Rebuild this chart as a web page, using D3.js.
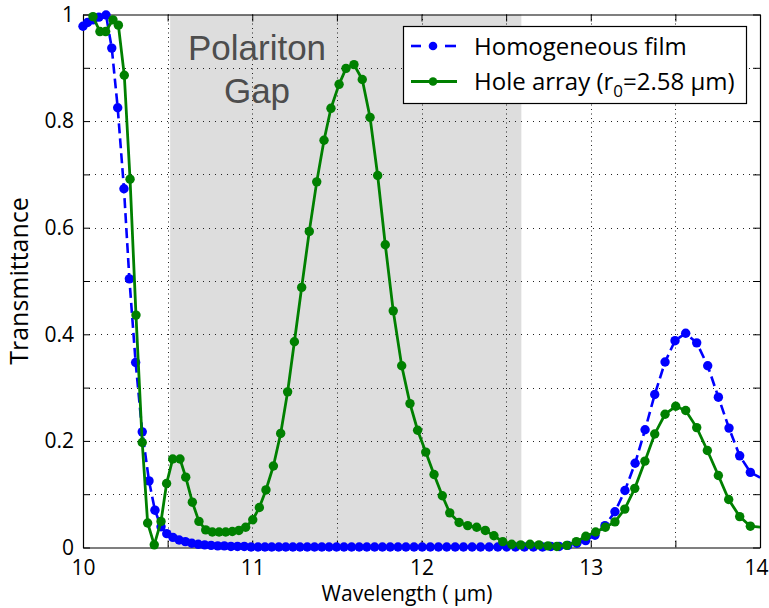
<!DOCTYPE html>
<html>
<head>
<meta charset="utf-8">
<script src="https://cdn.jsdelivr.net/npm/d3@7"></script>
<style>
  html, body { margin: 0; padding: 0; background: #fff; }
  svg { display: block; }
</style>
</head>
<body>
<svg id="chart" width="769" height="608"></svg>
<script>
// ---------- data ----------
const xTicks = [10, 10.5, 11, 11.5, 12, 12.5, 13, 13.5, 14];
const xTickLabels = ["10", "", "11", "", "12", "", "13", "", "14"];
const yTicks = [0, 0.1, 0.2, 0.3, 0.4, 0.5, 0.6, 0.7, 0.8, 0.9, 1];
const yTickLabels = ["0", "", "0.2", "", "0.4", "", "0.6", "", "0.8", "", "1"];
const gapRange = [10.515, 12.59];
const seriesNames = ["Homogeneous film", "Hole array (r", "0", "=2.58 \u03bcm)"];

const filmWavelength = [
  10.000, 10.027, 10.060, 10.094, 10.136, 10.170, 10.205, 10.242, 10.274, 10.311,
  10.350, 10.390, 10.425, 10.461, 10.495, 10.531, 10.568, 10.605, 10.643, 10.681,
  10.719, 10.757, 10.796, 10.835, 10.874, 10.913, 10.953, 10.993, 11.034, 11.075,
  11.115, 11.157, 11.198, 11.240, 11.282, 11.325, 11.368, 11.411, 11.454, 11.498,
  11.542, 11.587, 11.632, 11.677, 11.723, 11.769, 11.815, 11.861, 11.908, 11.956,
  12.004, 12.052, 12.100, 12.149, 12.199, 12.248, 12.299, 12.349, 12.400, 12.451,
  12.503, 12.555, 12.608, 12.661, 12.715, 12.764, 12.813, 12.865, 12.918, 12.970,
  13.025, 13.084, 13.143, 13.202, 13.262, 13.321, 13.378, 13.439, 13.498, 13.561,
  13.626, 13.691, 13.754, 13.817, 13.880, 13.943, 14.009
];
const filmTransmittance = [
  0.978, 0.985, 0.990, 0.995, 0.999, 0.937, 0.825, 0.673, 0.504, 0.347,
  0.217, 0.125, 0.070, 0.039, 0.026, 0.019, 0.014, 0.011, 0.008, 0.006,
  0.005, 0.004, 0.003, 0.003, 0.002, 0.002, 0.002, 0.001, 0.001, 0.001,
  0.001, 0.001, 0.001, 0.001, 0.001, 0.001, 0.001, 0.001, 0.001, 0.001,
  0.001, 0.001, 0.001, 0.001, 0.001, 0.001, 0.001, 0.001, 0.001, 0.001,
  0.001, 0.001, 0.001, 0.001, 0.001, 0.001, 0.001, 0.001, 0.001, 0.001,
  0.001, 0.001, 0.001, 0.001, 0.001, 0.002, 0.002, 0.004, 0.008, 0.013,
  0.023, 0.041, 0.067, 0.107, 0.158, 0.221, 0.287, 0.348, 0.388, 0.402,
  0.384, 0.341, 0.282, 0.224, 0.172, 0.141, 0.130
];

const holeWavelength = [
  10.059, 10.100, 10.134, 10.177, 10.209, 10.244, 10.278, 10.313, 10.350, 10.382,
  10.421, 10.461, 10.494, 10.530, 10.573, 10.607, 10.646, 10.685, 10.725, 10.764,
  10.804, 10.843, 10.882, 10.921, 10.961, 11.003, 11.042, 11.081, 11.125, 11.168,
  11.209, 11.249, 11.292, 11.337, 11.381, 11.424, 11.465, 11.513, 11.554, 11.601,
  11.650, 11.696, 11.741, 11.786, 11.833, 11.883, 11.932, 11.977, 12.025, 12.074,
  12.123, 12.167, 12.222, 12.273, 12.326, 12.377, 12.428, 12.480, 12.533, 12.586,
  12.641, 12.694, 12.747, 12.800, 12.858, 12.915, 12.971, 13.029, 13.086, 13.143,
  13.201, 13.260, 13.320, 13.378, 13.439, 13.502, 13.561, 13.626, 13.689, 13.754,
  13.815, 13.880, 13.943, 14.009
];
const holeTransmittance = [
  0.996, 0.968, 0.968, 0.990, 0.980, 0.886, 0.691, 0.436, 0.197, 0.046,
  0.005, 0.049, 0.120, 0.166, 0.166, 0.132, 0.085, 0.049, 0.033, 0.029,
  0.029, 0.029, 0.030, 0.032, 0.038, 0.052, 0.075, 0.108, 0.153, 0.214,
  0.292, 0.386, 0.488, 0.593, 0.686, 0.764, 0.824, 0.869, 0.899, 0.906,
  0.878, 0.807, 0.698, 0.568, 0.444, 0.341, 0.270, 0.220, 0.179, 0.137,
  0.097, 0.065, 0.047, 0.041, 0.038, 0.032, 0.022, 0.011, 0.006, 0.005,
  0.006, 0.005, 0.003, 0.002, 0.004, 0.011, 0.021, 0.029, 0.038, 0.048,
  0.072, 0.111, 0.162, 0.213, 0.250, 0.265, 0.257, 0.225, 0.182, 0.135,
  0.090, 0.058, 0.040, 0.038
];

// ---------- layout ----------
const svg = d3.select("#chart");
const L = 83, R = 760, T = 14.5, B = 547.5;
const x = d3.scaleLinear().domain([10, 14]).range([L, R]);
const y = d3.scaleLinear().domain([0, 1]).range([B, T]);
const blue = "#0000ff", green = "#008000";
const uiFont = "'Open Sans', 'DejaVu Sans', sans-serif";
const annFont = "'Liberation Sans', Arial, Helvetica, sans-serif";

svg.append("defs").append("clipPath").attr("id", "plotClip")
  .append("rect").attr("x", L).attr("y", T).attr("width", R - L).attr("height", B - T);

// gap band
svg.append("rect")
  .attr("x", x(gapRange[0])).attr("y", T)
  .attr("width", x(gapRange[1]) - x(gapRange[0])).attr("height", B - T)
  .attr("fill", "#dddddd");

// grid
const grid = svg.append("g").attr("stroke", "#222").attr("stroke-width", 1);
grid.selectAll("line.vg").data(xTicks.filter(d => d > 10 && d < 14)).join("line")
  .attr("x1", d => Math.round(x(d)) + 0.5).attr("x2", d => Math.round(x(d)) + 0.5)
  .attr("y1", T).attr("y2", B)
  .attr("stroke-dasharray", "1,3.5");
grid.selectAll("line.hg").data(yTicks.filter(d => d > 0 && d < 1)).join("line")
  .attr("x1", L).attr("x2", R)
  .attr("y1", d => Math.round(y(d)) + 0.5).attr("y2", d => Math.round(y(d)) + 0.5)
  .attr("stroke-dasharray", "1,5");

// "Polariton Gap" annotation
const ann = svg.append("text").attr("text-anchor", "middle")
  .style("font-family", annFont)
  .style("font-size", "35px").attr("fill", "#4d4d4d");
ann.append("tspan").attr("x", 257).attr("y", 60).text("Polariton");
ann.append("tspan").attr("x", 257).attr("y", 103).text("Gap");

// axes
function styleAxis(g) {
  g.selectAll("path.domain").attr("stroke", "#000").attr("stroke-width", 1.2);
  g.selectAll(".tick line").attr("stroke", "#000").attr("stroke-width", 1);
  g.selectAll("text").attr("fill", "#000")
    .style("font-size", "21px").style("font-family", uiFont);
}
svg.append("g").attr("transform", `translate(0,${B})`)
  .call(d3.axisBottom(x).tickValues(xTicks).tickSizeInner(-7).tickSizeOuter(0).tickPadding(13)
    .tickFormat((d, i) => xTickLabels[i]))
  .call(styleAxis)
  .call(g => g.selectAll(".tick text").filter(d => d === 14).attr("dx", -4));
svg.append("g").attr("transform", `translate(0,${T})`)
  .call(d3.axisTop(x).tickValues(xTicks).tickSizeInner(-7).tickSizeOuter(0).tickFormat(""))
  .call(styleAxis);
svg.append("g").attr("transform", `translate(${L},0)`)
  .call(d3.axisLeft(y).tickValues(yTicks).tickSizeInner(-7).tickSizeOuter(0).tickPadding(9)
    .tickFormat((d, i) => yTickLabels[i]))
  .call(styleAxis);
svg.append("g").attr("transform", `translate(${R},0)`)
  .call(d3.axisRight(y).tickValues(yTicks).tickSizeInner(-7).tickSizeOuter(0).tickFormat(""))
  .call(styleAxis);

// axis titles
svg.append("text").attr("x", 407).attr("y", 601).attr("text-anchor", "middle")
  .style("font-family", uiFont).style("font-size", "21px").text("Wavelength ( \u03bcm)");
svg.append("text").attr("transform", `translate(28,${(T + B) / 2}) rotate(-90)`)
  .attr("text-anchor", "middle")
  .style("font-family", uiFont).style("font-size", "25px").text("Transmittance");

// data
const film = filmWavelength.map((w, i) => ({ w, t: filmTransmittance[i] }));
const hole = holeWavelength.map((w, i) => ({ w, t: holeTransmittance[i] }));
const line = d3.line().x(d => x(d.w)).y(d => y(d.t));
const inDomain = d => d.w >= 10 && d.w <= 14;
const mr = 4.7;

const plot = svg.append("g");
plot.append("path").datum(film).attr("d", line).attr("clip-path", "url(#plotClip)")
  .attr("fill", "none").attr("stroke", blue).attr("stroke-width", 2.6)
  .attr("stroke-dasharray", "10,5");
plot.append("g").selectAll("circle").data(film.filter(inDomain)).join("circle")
  .attr("cx", d => x(d.w)).attr("cy", d => y(d.t)).attr("r", mr).attr("fill", blue);

plot.append("path").datum(hole).attr("d", line).attr("clip-path", "url(#plotClip)")
  .attr("fill", "none").attr("stroke", green).attr("stroke-width", 2.8);
plot.append("g").selectAll("circle").data(hole.filter(inDomain)).join("circle")
  .attr("cx", d => x(d.w)).attr("cy", d => y(d.t)).attr("r", mr).attr("fill", green);

// legend
const lg = svg.append("g");
lg.append("rect").attr("x", 403.5).attr("y", 26.5).attr("width", 343).attr("height", 77)
  .attr("fill", "#fff").attr("stroke", "#000").attr("stroke-width", 1.2);
const rows = [46, 81.5];
[[411, 421], [445, 456]].forEach(([a, b]) => {
  lg.append("line").attr("x1", a).attr("x2", b).attr("y1", rows[0]).attr("y2", rows[0])
    .attr("stroke", blue).attr("stroke-width", 2.6);
});
lg.append("circle").attr("cx", 433).attr("cy", rows[0]).attr("r", 4.3).attr("fill", blue);
lg.append("line").attr("x1", 411).attr("x2", 457).attr("y1", rows[1]).attr("y2", rows[1])
  .attr("stroke", green).attr("stroke-width", 2.8);
lg.append("circle").attr("cx", 433).attr("cy", rows[1]).attr("r", 4.3).attr("fill", green);
lg.append("text").attr("x", 474).attr("y", rows[0] + 8.5)
  .style("font-family", uiFont).style("font-size", "24px").text(seriesNames[0]);
const t2 = lg.append("text").attr("x", 474).attr("y", rows[1] + 8.5)
  .style("font-family", uiFont).style("font-size", "24px");
t2.append("tspan").text(seriesNames[1]);
t2.append("tspan").style("font-size", "17px").attr("dy", 7).text(seriesNames[2]);
t2.append("tspan").attr("dy", -7).text(seriesNames[3]);
</script>
</body>
</html>
